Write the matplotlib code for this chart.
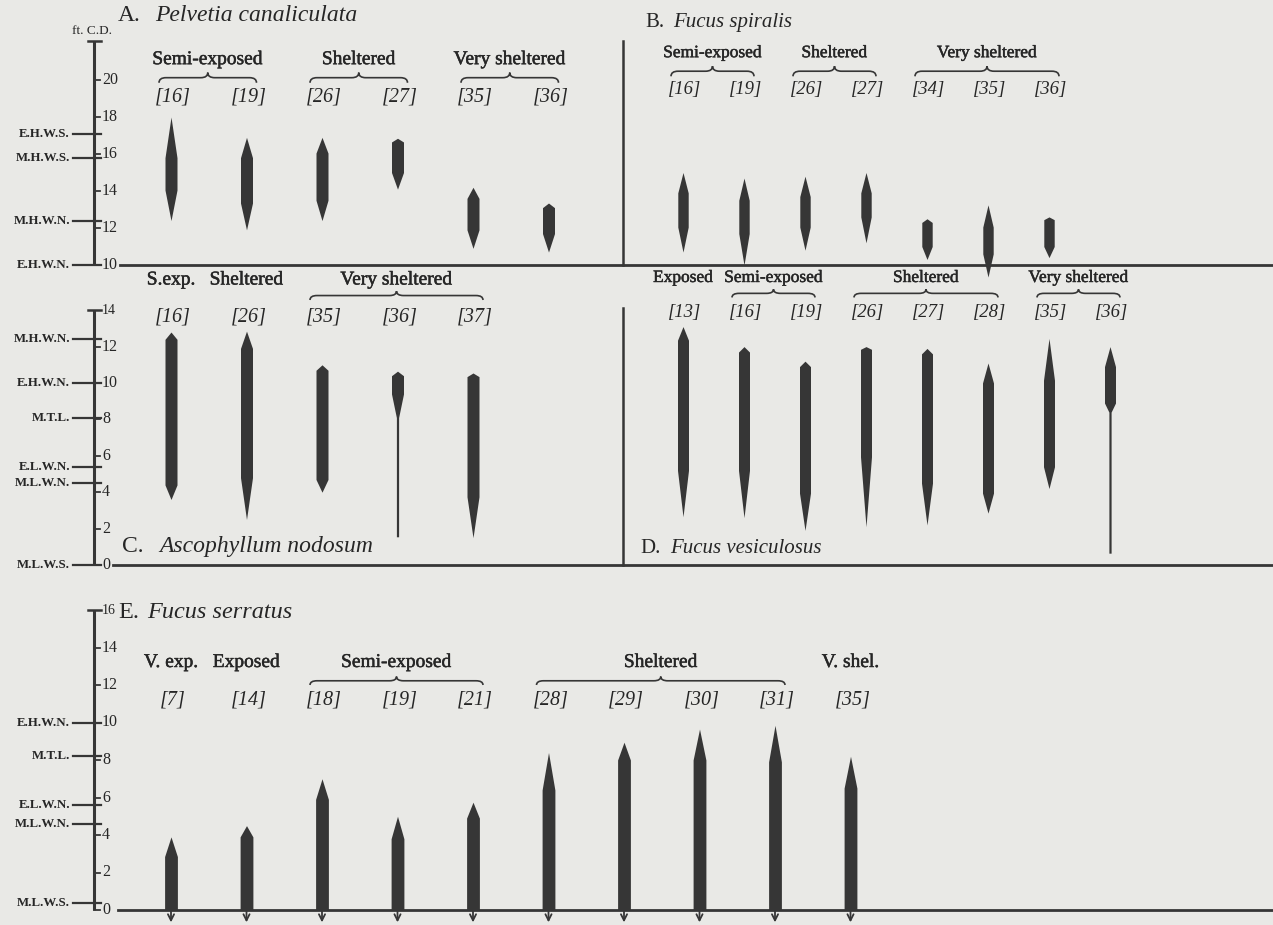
import matplotlib
matplotlib.use('Agg')
import matplotlib.pyplot as plt
import matplotlib.patheffects as pe
from matplotlib.path import Path
from matplotlib.patches import PathPatch
import numpy as np

''' Data (heights in ft above Chart Datum) '''
# A. Pelvetia canaliculata
A_sites = ['16', '19', '26', '27', '35', '36']
A_top = [18.0, 16.9, 16.9, 16.85, 14.2, 13.35]
A_upper = [15.8, 15.8, 16.05, 16.65, 13.6, 13.1]
A_lower = [14.05, 13.35, 13.5, 15.0, 11.9, 11.7]
A_bottom = [12.4, 11.9, 12.4, 14.1, 10.9, 10.7]
A_groups = [('Semi-exposed', 0, 1), ('Sheltered', 2, 3), ('Very sheltered', 4, 5)]

# B. Fucus spiralis
B_sites = ['16', '19', '26', '27', '34', '35', '36']
B_top = [15.0, 14.7, 14.8, 15.0, 12.5, 13.25, 12.6]
B_upper = [13.9, 13.5, 13.7, 13.9, 12.3, 12.05, 12.45]
B_lower = [12.05, 11.7, 12.05, 12.6, 11.0, 10.6, 11.0]
B_bottom = [10.7, 10.0, 10.8, 11.2, 10.3, 9.35, 10.4]
B_groups = [('Semi-exposed', 0, 1), ('Sheltered', 2, 3), ('Very sheltered', 4, 6)]

# C. Ascophyllum nodosum
C_sites = ['16', '26', '35', '36', '37']
C_top = [12.8, 12.85, 11.0, 10.65, 10.55]
C_upper = [12.4, 11.9, 10.7, 10.4, 10.35]
C_lower = [4.4, 4.8, 4.7, 9.4, 3.75]
C_bottom = [3.6, 2.5, 4.0, 8.1, 1.5]
C_stem = [None, None, None, 1.55, None]
C_groups = [('S.exp.', 0, 0), ('Sheltered', 1, 1), ('Very sheltered', 2, 4)]

# D. Fucus vesiculosus
D_sites = ['13', '16', '19', '26', '27', '28', '35', '36']
D_top = [13.1, 12.0, 11.2, 12.0, 11.9, 11.1, 12.45, 12.0]
D_upper = [12.35, 11.7, 10.9, 11.85, 11.6, 10.0, 10.15, 10.9]
D_lower = [5.2, 5.2, 3.95, 5.95, 4.5, 3.95, 5.4, 8.9]
D_bottom = [2.65, 2.6, 1.9, 2.1, 2.2, 2.85, 4.2, 8.4]
D_stem = [None, None, None, None, None, None, None, 0.65]
D_groups = [('Exposed', 0, 0), ('Semi-exposed', 1, 2), ('Sheltered', 3, 5), ('Very sheltered', 6, 7)]

# E. Fucus serratus (extends below M.L.W.S.)
E_sites = ['7', '14', '18', '19', '21', '28', '29', '30', '31', '35']
E_top = [3.9, 4.5, 7.0, 5.0, 5.75, 8.4, 8.95, 9.65, 9.85, 8.2]
E_shoulder = [2.85, 3.9, 5.9, 3.8, 4.9, 6.4, 8.0, 8.0, 7.9, 6.5]
E_groups = [('V. exp.', 0, 0), ('Exposed', 1, 1), ('Semi-exposed', 2, 4), ('Sheltered', 5, 8), ('V. shel.', 9, 9)]

# tidal levels
top_levels = [17.1, 15.8, 12.4, 10.0]
top_names = ['E.H.W.S.', 'M.H.W.S.', 'M.H.W.N.', 'E.H.W.N.']
mid_levels = [12.4, 10.0, 8.1, 5.4, 4.5, 0.0]
mid_names = ['M.H.W.N.', 'E.H.W.N.', 'M.T.L.', 'E.L.W.N.', 'M.L.W.N.', 'M.L.W.S.']
bot_levels = [10.0, 8.2, 5.6, 4.6, 0.35]
bot_names = ['E.H.W.N.', 'M.T.L.', 'E.L.W.N.', 'M.L.W.N.', 'M.L.W.S.']


''' Style '''
W, H = 1273, 925
PAPER = '#e9e9e6'
INK = '#363636'
TXT = '#262626'
plt.rcParams['font.family'] = ['Liberation Serif', 'DejaVu Serif']
HEAVY = [pe.withStroke(linewidth=0.35, foreground=TXT)]

fig = plt.figure(figsize=(W / 100, H / 100), dpi=100, facecolor=PAPER)


def make_row(py_top, py_bot, py_ref, ft_ref, ppf):
    ax = fig.add_axes([0, 1 - py_bot / H, 1, (py_bot - py_top) / H])
    ax.set_xlim(0, W)
    ax.set_ylim(ft_ref - (py_bot - py_ref) / ppf, ft_ref + (py_ref - py_top) / ppf)
    ax.axis('off')
    return ax


def draw_scale(ax, lo, hi, ticks, levels, names, top_label=True):
    ax.plot([94, 94], [lo, hi], color=INK, lw=2.2, solid_capstyle='butt', clip_on=False)
    ax.plot([88, 101], [hi, hi], color=INK, lw=1.8, clip_on=False)
    for t in ticks:
        ax.plot([94, 100], [t, t], color=INK, lw=1.3, clip_on=False)
        ax.text(102, t, str(t), ha='left', va='center', fontsize=11.5, color=TXT)
    if top_label:
        ax.text(102, hi, str(int(hi)), ha='left', va='center', fontsize=10, color=TXT)
    for lv, nm in zip(levels, names):
        ax.plot([73, 101], [lv, lv], color=INK, lw=1.6, clip_on=False)
        ax.text(70, lv, nm, ha='right', va='center', fontsize=9.3, fontweight='bold', color=TXT)


def brace(ax, x0, x1, y_end, y_peak):
    xm = (x0 + x1) / 2
    yf = (y_end + y_peak) / 2
    d = 7
    verts = [(x0, y_end), (x0, yf), (x0 + d, yf), (xm - d, yf), (xm, yf), (xm, y_peak),
             (xm, yf), (xm + d, yf), (x1 - d, yf), (x1, yf), (x1, y_end)]
    codes = [Path.MOVETO, Path.CURVE3, Path.CURVE3, Path.LINETO, Path.CURVE3, Path.CURVE3,
             Path.CURVE3, Path.CURVE3, Path.LINETO, Path.CURVE3, Path.CURVE3]
    ax.add_patch(PathPatch(Path(verts, codes), fill=False, lw=1.2, edgecolor=INK, clip_on=False))


def spindles(ax, xs, top, upper, lower, bottom, stem, w):
    for i, x in enumerate(xs):
        if stem is not None and stem[i] is not None:
            ys = [stem[i], bottom[i], lower[i], upper[i], top[i]]
            hw = np.array([1.1, 1.1, w, w, 0])
        else:
            ys = [bottom[i], lower[i], upper[i], top[i]]
            hw = np.array([0, w, w, 0])
        ax.fill_betweenx(ys, x - hw, x + hw, color=INK, lw=0, clip_on=False)


def headings(ax, xs, sites, groups, y_head, y_brace, y_peak, y_lab, fs=14, lfs=14.5):
    for s, x in zip(sites, xs):
        ax.text(x + 2, y_lab, f'[{s}]', ha='center', va='center', fontsize=lfs,
                style='italic', color=TXT)
    for name, i0, i1 in groups:
        if i1 > i0:
            x0, x1 = xs[i0] - 12, xs[i1] + 10
            brace(ax, x0, x1, y_brace, y_peak)
            xc = (x0 + x1) / 2
        else:
            xc = xs[i0]
        ax.text(xc, y_head, name, ha='center', va='center', fontsize=fs, color=TXT,
                path_effects=HEAVY)


def title(ax, x_letter, x_name, y, letter, name, fs=17):
    ax.text(x_letter, y, letter, ha='left', va='center', fontsize=fs, color=TXT)
    ax.text(x_name, y, name, ha='left', va='center', fontsize=fs, style='italic', color=TXT)


''' Rows '''
ax_top = make_row(0, 272, 265, 10.0, 18.5)
ax_mid = make_row(272, 580, 565, 0.0, 18.2)
ax_bot = make_row(580, 925, 910, 0.0, 18.75)

left_x = 171 + 75.5 * np.arange(10)
right_x = 683 + 61.0 * np.arange(8)

# top row: A and B
draw_scale(ax_top, 10, 22.1, [10, 12, 14, 16, 18, 20], top_levels, top_names, top_label=False)
ax_top.text(92, 22.65, 'ft. C.D.', ha='center', va='center', fontsize=9.5, color=TXT)
ax_top.plot([120, W], [10, 10], color=INK, lw=2, clip_on=False)
ax_top.plot([623, 623], [10, 22.1], color=INK, lw=1.8, clip_on=False)
xa = left_x[:len(A_sites)]
spindles(ax_top, xa, A_top, A_upper, A_lower, A_bottom, None, 6.0)
headings(ax_top, xa, A_sites, A_groups, 21.1, 19.85, 20.4, 19.1)
title(ax_top, 118, 155, 23.5, 'A.', 'Pelvetia canaliculata')
xb = right_x[:len(B_sites)]
spindles(ax_top, xb, B_top, B_upper, B_lower, B_bottom, None, 5.2)
headings(ax_top, xb, B_sites, B_groups, 21.45, 20.2, 20.75, 19.46, fs=12.5, lfs=13.5)
title(ax_top, 645, 673, 23.1, 'B.', 'Fucus spiralis', fs=15)

# middle row: C and D
draw_scale(ax_mid, 0, 14, [0, 2, 4, 6, 8, 10, 12], mid_levels, mid_names)
ax_mid.plot([113, W], [0, 0], color=INK, lw=2, clip_on=False)
ax_mid.plot([623, 623], [0, 14.1], color=INK, lw=1.8, clip_on=False)
xc = left_x[:len(C_sites)]
spindles(ax_mid, xc, C_top, C_upper, C_lower, C_bottom, C_stem, 6.0)
headings(ax_mid, xc, C_sites, C_groups, 15.66, 14.56, 15.05, 13.63)
title(ax_mid, 122, 159, 0.99, 'C.', 'Ascophyllum nodosum')
xd = right_x[:len(D_sites)]
spindles(ax_mid, xd, D_top, D_upper, D_lower, D_bottom, D_stem, 5.5)
headings(ax_mid, xd, D_sites, D_groups, 15.77, 14.7, 15.15, 13.9, fs=12.5, lfs=13.5)
title(ax_mid, 640, 670, 0.93, 'D.', 'Fucus vesiculosus', fs=15)

# bottom row: E
draw_scale(ax_bot, 0, 16, [0, 2, 4, 6, 8, 10, 12, 14], bot_levels, bot_names)
ax_bot.plot([118, W], [0, 0], color=INK, lw=2, clip_on=False)
xe = left_x[:len(E_sites)]
for i, x in enumerate(xe):
    hw = np.array([6.4, 6.4, 0])
    ax_bot.fill_betweenx([0, E_shoulder[i], E_top[i]], x - hw, x + hw, color=INK, lw=0, clip_on=False)
    ax_bot.annotate('', xy=(x, -0.66), xytext=(x, 0), annotation_clip=False,
                    arrowprops=dict(arrowstyle='->', lw=1.3, color=INK, mutation_scale=11,
                                    shrinkA=0, shrinkB=0))
headings(ax_bot, xe, E_sites, E_groups, 13.2, 12.0, 12.45, 11.2)
title(ax_bot, 118, 147, 15.85, 'E.', 'Fucus serratus', fs=17.5)

fig.savefig('out.png', dpi=100, facecolor=PAPER)
